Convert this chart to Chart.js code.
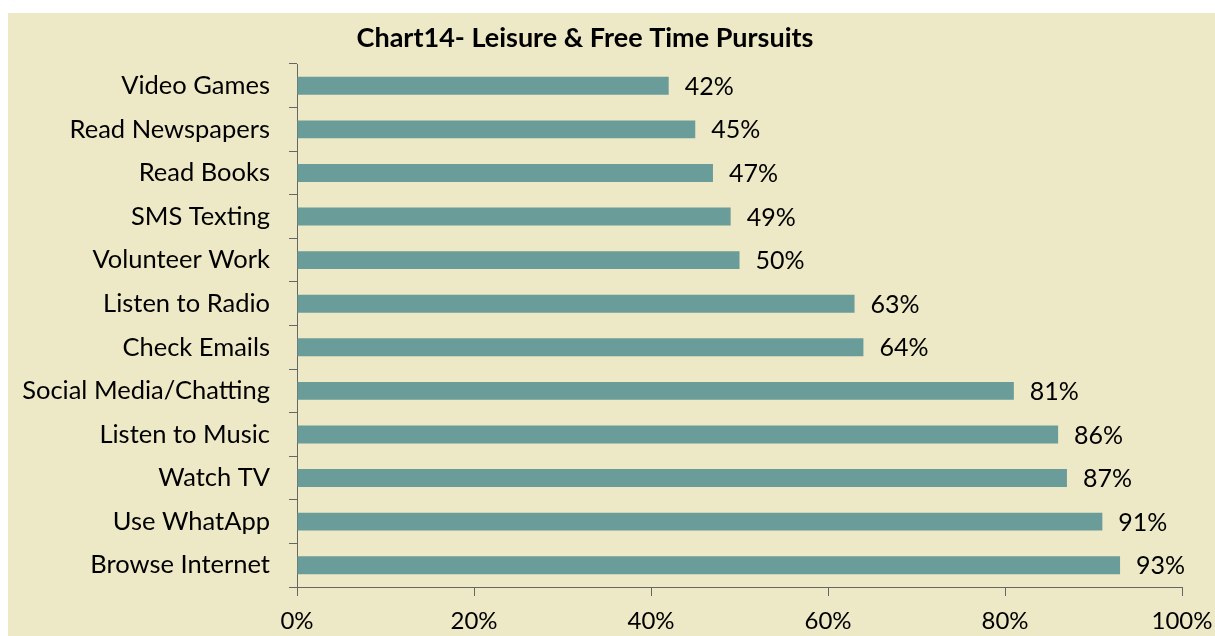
<!DOCTYPE html>
<html>
<head>
<meta charset="utf-8">
<script src="https://cdn.jsdelivr.net/npm/chart.js@4.4.0/dist/chart.umd.min.js"></script>
<style>
  body { margin: 0; background: #ffffff; }
  #box { position: absolute; left: 8px; top: 13px; width: 1207px; height: 623px; background: #EDE8C5; }
</style>
</head>
<body>
<div id="box"><canvas id="myChart" width="1207" height="623"></canvas></div>
<script>
// Données du graphique
const chartTitle = 'Chart14- Leisure & Free Time Pursuits';
const activities = ['Video Games', 'Read Newspapers', 'Read Books', 'SMS Texting', 'Volunteer Work',
  'Listen to Radio', 'Check Emails', 'Social Media/Chatting', 'Listen to Music', 'Watch TV',
  'Use WhatApp', 'Browse Internet'];
const percentages = [42, 45, 47, 49, 50, 63, 64, 81, 86, 87, 91, 93];
const xTicks = [0, 20, 40, 60, 80, 100];

const fontFamily = 'Lato, "Open Sans", sans-serif';

// Étiquettes de valeurs à droite des barres
const valueLabels = {
  id: 'valueLabels',
  afterDatasetsDraw(chart) {
    const ctx = chart.ctx;
    const meta = chart.getDatasetMeta(0);
    ctx.save();
    ctx.font = '25px ' + fontFamily;
    ctx.fillStyle = '#000';
    ctx.textAlign = 'left';
    ctx.textBaseline = 'middle';
    meta.data.forEach((bar, i) => {
      ctx.fillText(percentages[i] + '%', bar.x + 16, bar.y + 1);
    });
    ctx.restore();
  }
};

// Titre placé à la main (légèrement à gauche du centre)
const titlePlugin = {
  id: 'titlePlugin',
  afterDraw(chart) {
    const ctx = chart.ctx;
    ctx.save();
    ctx.font = 'bold 27px ' + fontFamily;
    ctx.fillStyle = '#000';
    ctx.textAlign = 'center';
    ctx.textBaseline = 'middle';
    ctx.fillText(chartTitle, 577, 25);
    ctx.restore();
  }
};

new Chart(document.getElementById('myChart').getContext('2d'), {
  type: 'bar',
  data: {
    labels: activities,
    datasets: [{
      data: percentages,
      backgroundColor: '#6A9C9A',
      borderWidth: 0,
      barPercentage: 0.41,
      categoryPercentage: 1
    }]
  },
  options: {
    indexAxis: 'y',
    responsive: false,
    animation: false,
    layout: { padding: { top: 51, right: 33, left: 0, bottom: 0 } },
    plugins: {
      legend: { display: false },
      tooltip: { enabled: false },
      title: { display: false }
    },
    scales: {
      y: {
        afterFit: scale => { scale.width = 289; },
        border: { color: '#666', width: 1 },
        grid: { offset: true, drawOnChartArea: false, tickLength: 8, color: '#666' },
        ticks: { color: '#000', font: { size: 25.5, family: fontFamily }, padding: 19 }
      },
      x: {
        min: 0,
        max: 100,
        afterFit: scale => { scale.height = 49; scale.paddingLeft = 0; scale.paddingRight = 0; },
        afterBuildTicks: scale => { scale.ticks = xTicks.map(v => ({ value: v })); },
        border: { color: '#666', width: 1 },
        grid: { drawOnChartArea: false, tickLength: 9, color: '#666' },
        ticks: {
          color: '#000',
          font: { size: 24, family: fontFamily },
          padding: 11,
          callback: v => v + '%'
        }
      }
    }
  },
  plugins: [valueLabels, titlePlugin]
});
</script>
</body>
</html>
